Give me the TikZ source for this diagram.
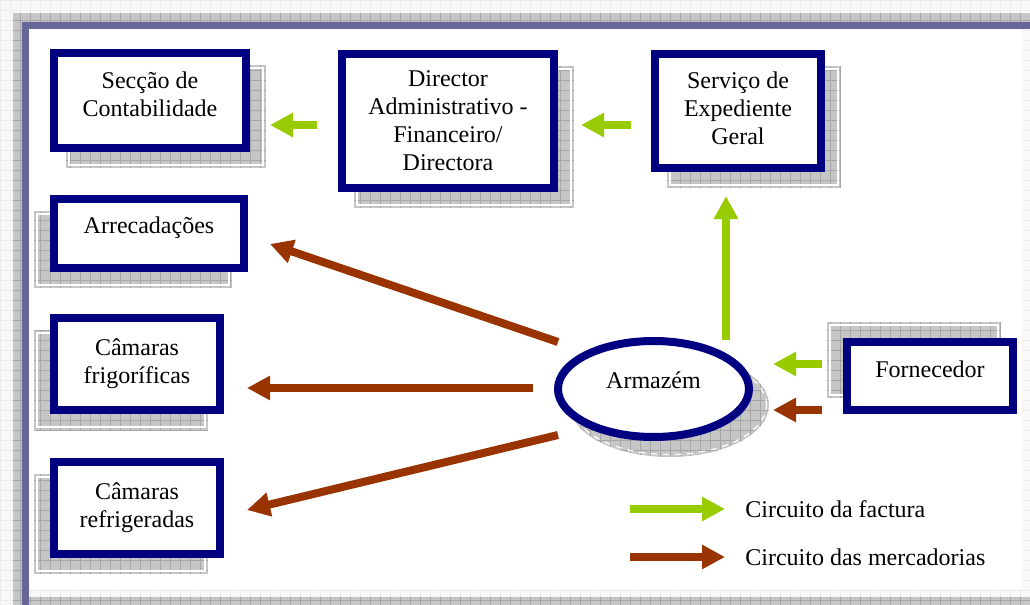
\documentclass[tikz,border=0pt]{standalone}
\usepackage{fontspec}
\setmainfont{Liberation Serif}
\usetikzlibrary{shapes.geometric,arrows.meta,calc,backgrounds}
\definecolor{azulmarinho}{HTML}{000080}
\definecolor{verdefact}{HTML}{99CC00}
\definecolor{castanho}{HTML}{993300}
\definecolor{azulcinza}{HTML}{666699}
\begin{document}
\begin{tikzpicture}[
        x=0.5pt, y=-0.5pt,
        bloco/.style={rectangle, draw=azulmarinho, fill=white, line width=4pt, align=center,
            inner sep=0pt, font=\fontsize{12}{14}\selectfont},
        armazem/.style={ellipse, draw=azulmarinho, fill=white, line width=4pt, inner sep=0pt,
            minimum width=95.5pt, minimum height=48pt, font=\fontsize{12}{14}\selectfont},
        subir/.style={execute at end node={\rule[-#1]{0pt}{#1}}},
        legenda/.style={anchor=west, inner sep=0pt, font=\fontsize{12}{14}\selectfont},
        factura/.style={draw=verdefact, line width=4pt, -{Triangle[length=11.5pt,width=11.5pt]}},
        mercadoria/.style={draw=castanho, line width=4pt, -{Triangle[length=11.5pt,width=11.5pt]}},
        sombrafill/.style={fill=gray!45},
        quadricula/.style={draw=gray!70, line width=0.4pt, step=5pt}
        ]
        \useasboundingbox (0,0) rectangle (1030,605);

        \node[bloco, subir=6pt, minimum width=96pt, minimum height=47.5pt]   (sec)  at (150,100.5) {Secção de\\Contabilidade};
        \node[bloco, minimum width=106pt, minimum height=67pt]               (dir)  at (448,121)   {Director\\Administrativo -\\Financeiro/\\Directora};
        \node[bloco, subir=3pt, minimum width=83pt, minimum height=57pt]     (serv) at (738,111)   {Serviço de\\Expediente\\Geral};
        \node[bloco, subir=8.4pt, minimum width=95pt, minimum height=34.5pt] (arr)  at (149,233.5) {Arrecadações};
        \node[bloco, minimum width=83pt, minimum height=46pt]                (cf)   at (137,364)   {Câmaras\\frigoríficas};
        \node[bloco, minimum width=83pt, minimum height=46pt]                (cr)   at (137,508)   {Câmaras\\refrigeradas};
        \node[bloco, subir=7pt, minimum width=83pt, minimum height=34pt]     (forn) at (930,376)   {Fornecedor};
        \node[armazem, subir=9pt]                                            (arm)  at (653.5,389) {Armazém};
        \node[legenda]                                                       (lfact) at (745,509)  {Circuito da factura};
        \node[legenda]                                                       (lmerc) at (745,557)  {Circuito das mercadorias};

        \begin{scope}[on background layer]
            \fill[gray!5] (0,0) rectangle (1030,605);
            \draw[draw=gray!15, step=5pt] (0,0) grid (1030,605);
            \foreach \a/\b in {{(13,13)}/{(1030,22)}, {(13,13)}/{(22,605)}, {(29,597)}/{(1030,605)}} {
                \fill[sombrafill] \a rectangle \b;
                \draw[quadricula] \a grid \b;
            }
            \fill[azulcinza] (22,22) rectangle (1030,29);
            \fill[azulcinza] (22,22) rectangle (29,605);
            \fill[white] (29,29) rectangle (1022,589);
            \foreach \n/\dx/\dy in {sec/16/16, dir/16/16, serv/16/16, arr/-16/16, cf/-16/16, cr/-16/16, forn/-16/-16} {
                \fill[sombrafill] ($(\n.south west)+(\dx,\dy)$) rectangle ($(\n.north east)+(\dx,\dy)$);
                \draw[quadricula] ($(\n.south west)+(\dx,\dy)$) grid ($(\n.north east)+(\dx,\dy)$);
                \draw[white, line width=0.6pt] ($(\n.south west)+(\dx,\dy)+(3,-3)$) rectangle ($(\n.north east)+(\dx,\dy)+(-3,3)$);
            }
            \begin{scope}
                \clip ($(arm.center)+(16,16)$) ellipse [x radius=49.75pt, y radius=26pt];
                \fill[sombrafill] ($(arm.center)+(-90,-40)$) rectangle ($(arm.center)+(120,72)$);
                \draw[quadricula] ($(arm.center)+(-90,-40)$) grid ($(arm.center)+(120,72)$);
            \end{scope}
            \draw[white, line width=0.6pt, dashed] ($(arm.center)+(16,16)$) ellipse [x radius=48.5pt, y radius=24.8pt];
        \end{scope}

        \draw[factura]    ($(dir.west)+(-21,4)$)    -- ($(sec.east)+(20,24.5)$);
        \draw[factura]    ($(serv.west)+(-20,14)$)  -- ($(dir.east)+(23,4)$);
        \draw[factura]    ($(arm.north)+(72.5,3)$)  -- ($(serv.south)+(-12,24)$);
        \draw[factura]    ($(forn.west)+(-21,-12)$) -- ($(arm.east)+(20,-25)$);
        \draw[mercadoria] ($(forn.west)+(-21,34)$)  -- ($(arm.east)+(20,21)$);
        \draw[mercadoria] ($(arm.west)+(4,-47)$)    -- ($(arr.east)+(22,10.5)$);
        \draw[mercadoria] ($(arm.west)+(-21,-1)$)   -- ($(cf.east)+(23,24)$);
        \draw[mercadoria] ($(arm.west)+(4,46)$)     -- ($(cr.east)+(23,2)$);
        \draw[factura]    ($(lfact.west)+(-115,0)$) -- ($(lfact.west)+(-20,0)$);
        \draw[mercadoria] ($(lmerc.west)+(-115,0)$) -- ($(lmerc.west)+(-20,0)$);
    \end{tikzpicture}
\end{document}
